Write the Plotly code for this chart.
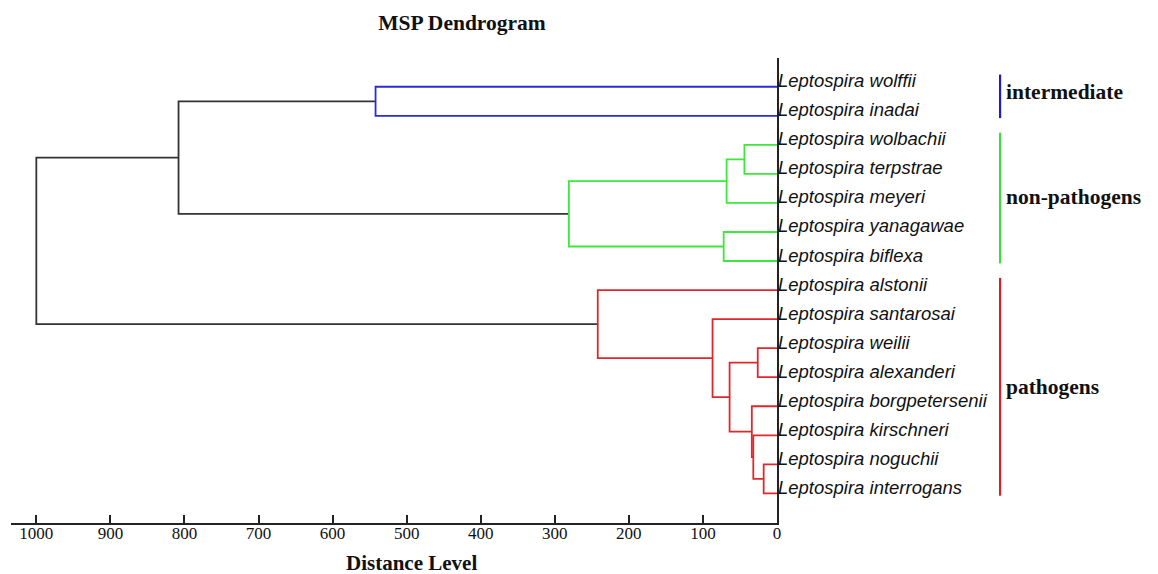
import plotly.graph_objects as go

# ---------------- data ----------------
leaves = [
    "Leptospira wolffii", "Leptospira inadai", "Leptospira wolbachii",
    "Leptospira terpstrae", "Leptospira meyeri", "Leptospira yanagawae",
    "Leptospira biflexa", "Leptospira alstonii", "Leptospira santarosai",
    "Leptospira weilii", "Leptospira alexanderi", "Leptospira borgpetersenii",
    "Leptospira kirschneri", "Leptospira noguchii", "Leptospira interrogans",
]
# merges: (child a, child b, distance, colour group); new node ids start at 15
merge_a = [0, 2, 16, 5, 17, 15, 13, 12, 11, 9, 24, 8, 7, 20]
merge_b = [1, 3, 4, 6, 18, 19, 14, 21, 22, 10, 23, 25, 26, 27]
merge_dist = [542, 44, 68, 72, 281, 808, 18, 32, 34, 26, 64, 87, 242, 1000]
merge_group = ["intermediate", "non-pathogens", "non-pathogens", "non-pathogens",
               "non-pathogens", "root", "pathogens", "pathogens", "pathogens",
               "pathogens", "pathogens", "pathogens", "pathogens", "root"]

groups = ["intermediate", "non-pathogens", "pathogens"]
group_first = [0, 2, 7]
group_last = [1, 6, 14]

x_ticks = [0, 100, 200, 300, 400, 500, 600, 700, 800, 900, 1000]

# ---------------- style ----------------
colors = {"intermediate": "#2b2bd8", "non-pathogens": "#3be83b",
          "pathogens": "#e0282c", "root": "#333333"}
bar_colors = {"intermediate": "#1c1ccc", "non-pathogens": "#38e038",
              "pathogens": "#e01e22"}
label_yshift = {"intermediate": 4, "non-pathogens": 1, "pathogens": 0}
SERIF = "Liberation Serif, Times New Roman, serif"
SANS = "Liberation Sans, Arial, sans-serif"

# ---------------- build tree geometry ----------------
n = len(leaves)
ypos = {i: float(i) for i in range(n)}
xpos = {i: 0.0 for i in range(n)}

fig = go.Figure()
seg = {k: ([], []) for k in colors}
for k, (a, b, d, g) in enumerate(zip(merge_a, merge_b, merge_dist, merge_group)):
    node = n + k
    xs, ys = seg[g]
    xs += [xpos[a], d, d, xpos[b], None]
    ys += [ypos[a], ypos[a], ypos[b], ypos[b], None]
    xpos[node] = d
    ypos[node] = (ypos[a] + ypos[b]) / 2

for g in ["root", "intermediate", "non-pathogens", "pathogens"]:
    xs, ys = seg[g]
    fig.add_trace(go.Scatter(x=xs, y=ys, mode="lines",
                             line=dict(color=colors[g], width=1.8),
                             hoverinfo="skip", showlegend=False))

# ---------------- layout (page body has an 8px margin) ----------------
OFF = 8
W, H = 1158 - OFF, 574 - OFF
L = 11 - OFF
plot_right = 776.7 - OFF
plot_top = 58 - OFF
plot_bottom = 523.3 - OFF
R = W - plot_right
T = plot_top
B = H - plot_bottom
x_left = 1034.2
y_top, y_bot = -0.99, 15.02
pw, ph = W - L - R, H - T - B

annotations = []
for i, name in enumerate(leaves):
    annotations.append(dict(x=0, y=i, xref="x", yref="y", text=name,
                            showarrow=False, xanchor="left", yanchor="middle",
                            xshift=-1, yshift=6,
                            font=dict(family=SANS, size=18.5, color="#111111", style="italic")))

shapes = []
bar_x = (999.7 - OFF - L) / pw
for g, f, l in zip(groups, group_first, group_last):
    y0, y1 = f - 0.42, l + 0.08
    shapes.append(dict(type="line", xref="paper", yref="y", x0=bar_x, x1=bar_x,
                       y0=y0, y1=y1, line=dict(color=bar_colors[g], width=2.2)))
    annotations.append(dict(x=bar_x, y=(y0 + y1) / 2, xref="paper", yref="y",
                            text="<b>%s</b>" % g, showarrow=False,
                            xanchor="left", yanchor="middle", xshift=4,
                            yshift=label_yshift[g],
                            font=dict(family=SERIF, size=21.5, color="#111111")))

annotations.append(dict(x=(411 - OFF - L) / pw, y=(plot_bottom - (563 - OFF)) / ph,
                        xref="paper", yref="paper",
                        text="<b>Distance Level</b>", showarrow=False,
                        xanchor="center", yanchor="middle",
                        font=dict(family=SERIF, size=21, color="#111111")))

fig.update_layout(
    width=W, height=H,
    margin=dict(l=L, r=R, t=T, b=B, pad=0),
    paper_bgcolor="white", plot_bgcolor="white",
    title=dict(text="<b>MSP Dendrogram</b>", x=(462 - OFF) / W, xanchor="center",
               y=1 - (22 - OFF) / H, yanchor="middle",
               font=dict(family=SERIF, size=21.5, color="#111111")),
    xaxis=dict(range=[x_left, 0], tickvals=x_ticks, ticktext=[str(v) for v in x_ticks],
               ticks="inside", ticklen=8, tickwidth=1.5, tickcolor="#222222",
               showline=True, linecolor="#222222", linewidth=1.8,
               showgrid=False, zeroline=False, ticklabelstandoff=-6,
               tickfont=dict(family=SERIF, size=17, color="#111111")),
    yaxis=dict(range=[y_bot, y_top], showline=True, side="right",
               linecolor="#222222", linewidth=1.8, showgrid=False,
               zeroline=False, showticklabels=False, ticks=""),
    annotations=annotations, shapes=shapes,
)

fig.write_html("out.html")
